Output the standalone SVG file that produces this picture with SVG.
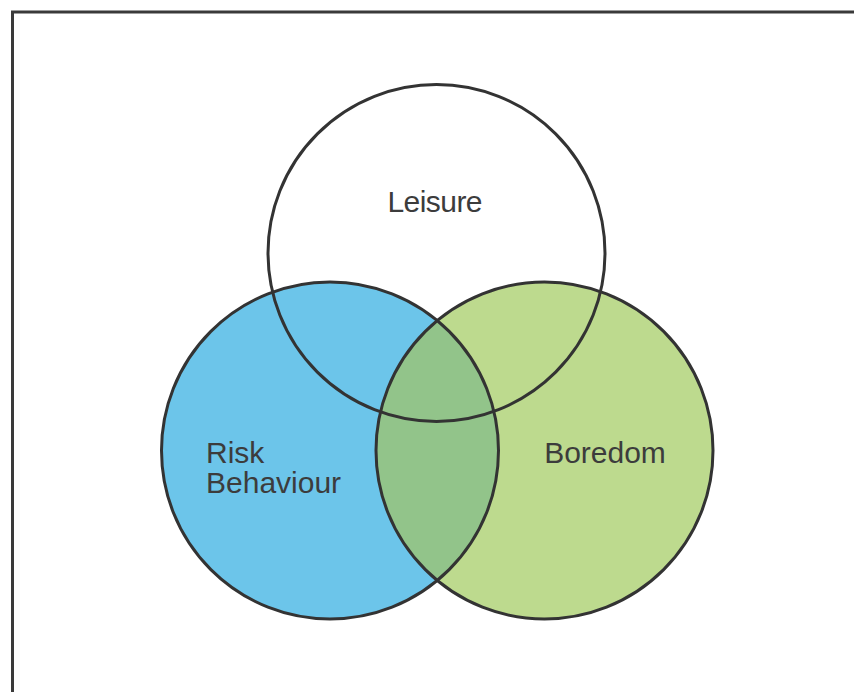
<svg xmlns="http://www.w3.org/2000/svg" width="854" height="692" viewBox="0 0 854 692">
  <style>
    .ring { fill: none; stroke: #333333; stroke-width: 3; }
    .lbl { font-family: "Liberation Sans", Arial, sans-serif; font-size: 30px; fill: #3c3c3c; }
  </style>
  <defs>
    <clipPath id="clipB"><circle cx="544.5" cy="450.5" r="168.5"/></clipPath>
  </defs>
  <rect width="854" height="692" fill="#ffffff"/>
  <path d="M12.5 700 V12 H860" fill="none" stroke="#3a3a3a" stroke-width="3"/>
  <g id="fills">
    <circle cx="330" cy="450.5" r="168.5" fill="#6CC5EA"/>
    <circle cx="544.5" cy="450.5" r="168.5" fill="#BDDA8E"/>
    <circle cx="330" cy="450.5" r="168.5" fill="#92C48A" clip-path="url(#clipB)"/>
  </g>
  <g id="leisure">
    <circle class="ring" cx="436.5" cy="253" r="168.5"/>
    <text class="lbl" x="435" y="212" text-anchor="middle" textLength="95">Leisure</text>
  </g>
  <g id="risk-behaviour">
    <circle class="ring" cx="330" cy="450.5" r="168.5"/>
    <text class="lbl" x="206" y="463">Risk</text>
    <text class="lbl" x="206" y="493">Behaviour</text>
  </g>
  <g id="boredom">
    <circle class="ring" cx="544.5" cy="450.5" r="168.5"/>
    <text class="lbl" x="605" y="463" text-anchor="middle">Boredom</text>
  </g>
</svg>
